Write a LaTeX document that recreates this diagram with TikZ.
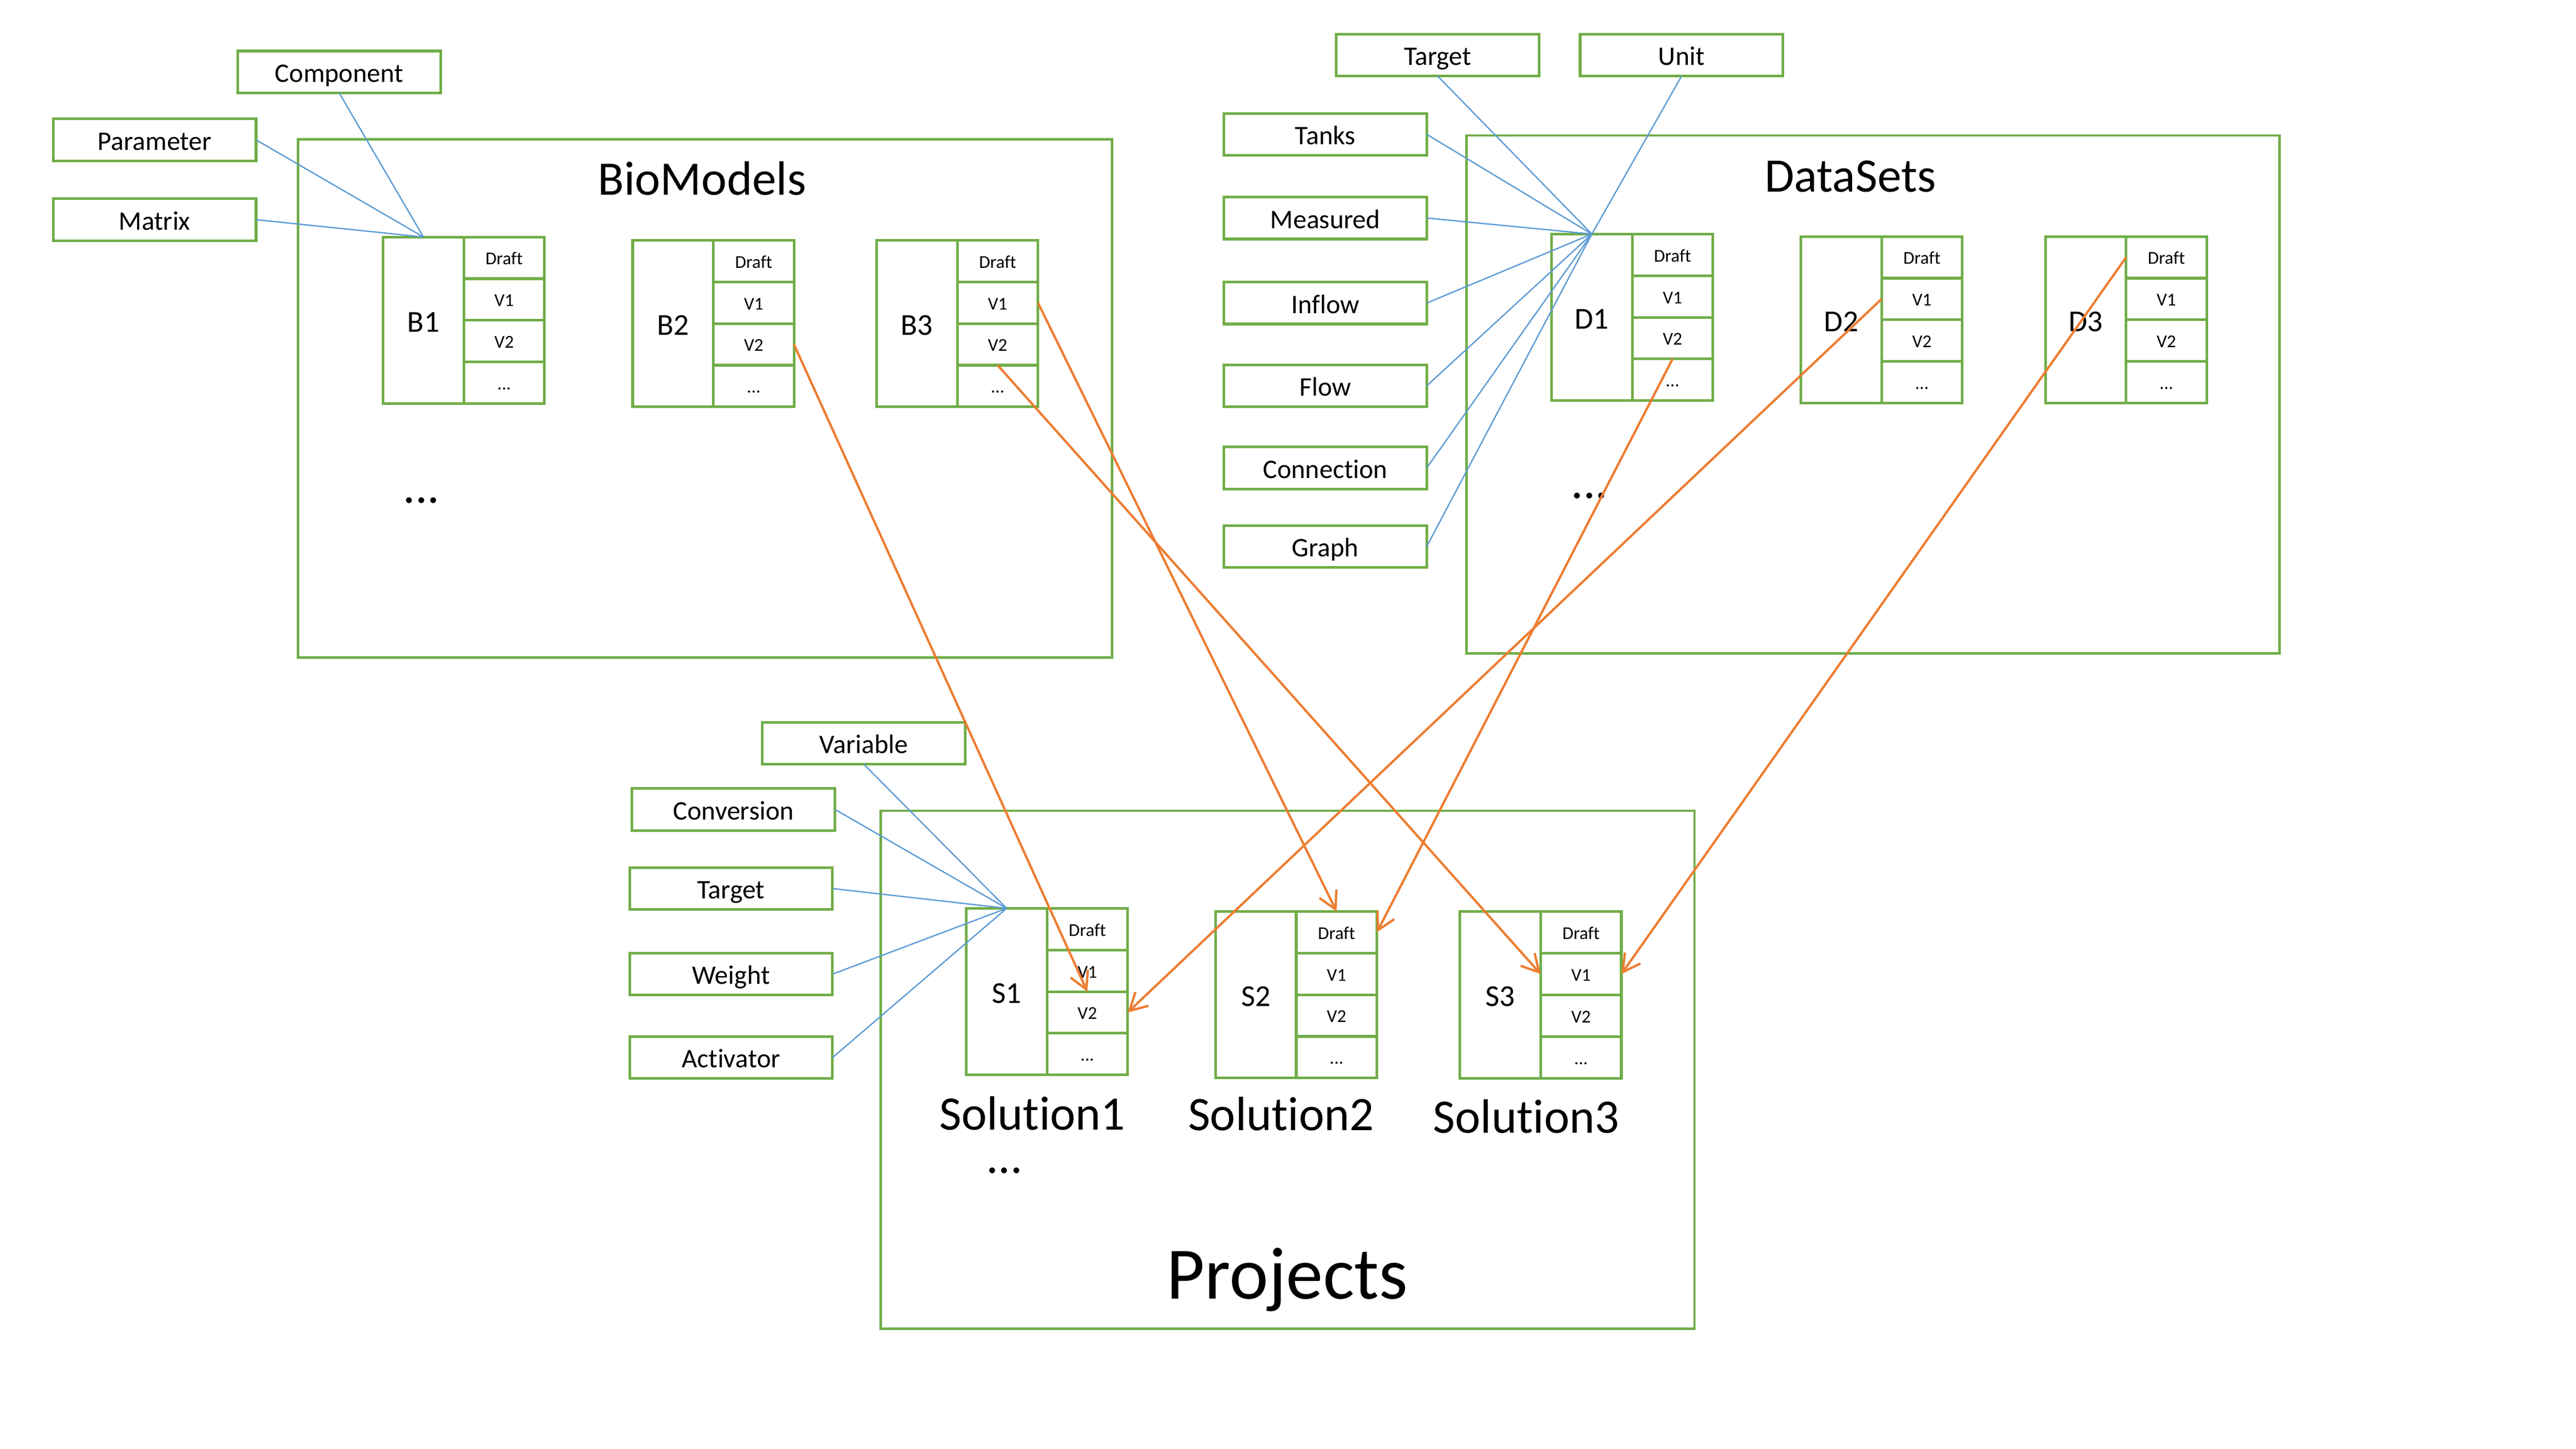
\documentclass[tikz,border=0pt]{standalone}
\usepackage{fontspec}
\setmainfont{Carlito}[Ligatures=NoCommon]
\usetikzlibrary{arrows.meta}
\definecolor{gr}{HTML}{70AD47}
\definecolor{bl}{HTML}{5B9BD5}
\definecolor{or}{HTML}{ED7D31}
\newcommand\fs[1]{\fontsize{#1}{#1}\selectfont}
\tikzset{
  grn/.style={draw=gr, line width=1.6pt},
  cellL/.style={grn, rectangle, inner sep=0pt, outer sep=0pt, anchor=north west,
    minimum width=49.1pt, minimum height=101.4pt, font=\fs{18.5}, text height=14pt, text depth=0pt},
  cellR/.style={grn, rectangle, inner sep=0pt, outer sep=0pt, anchor=north west,
    minimum width=49.1pt, minimum height=25.35pt, font=\fs{11}, text height=8.4pt, text depth=0pt},
  tagbox/.style={grn, rectangle, inner sep=0pt, outer sep=0pt,
    minimum width=123.5pt, minimum height=25.5pt, font=\fs{16.3}, text height=12.4pt, text depth=0pt},
  frame/.style={grn, line width=1.5pt, rectangle, inner sep=0pt, outer sep=0pt, anchor=north west},
  title/.style={anchor=base, inner sep=0pt, font=\fs{29.3}},
  bline/.style={draw=bl, line width=0.8pt},
  oarrow/.style={draw=or, line width=1.4pt, -{Straight Barb[length=10.5pt, width=11.5pt]}},
}
\newcommand\mkgroup[4]{%
  \node[cellL] (#1) at (#2,#3) {#4};
  \node[cellR] (#1d) at ({#2+49.1},{#3}) {Draft};
  \node[cellR] (#1v1) at ({#2+49.1},{#3+25.35}) {V1};
  \node[cellR] (#1v2) at ({#2+49.1},{#3+50.7}) {V2};
  \node[cellR] (#1e) at ({#2+49.1},{#3+76.05}) {...};
}
\begin{document}
\begin{tikzpicture}[x=1pt,y=-1pt]
\useasboundingbox (0,0) rectangle (1568,882);

% frames
\node[frame, minimum width=495.4pt, minimum height=315.5pt] (bio) at (181.4,84.9) {};
\node[frame, minimum width=494.9pt, minimum height=315.4pt] (data) at (892.6,82.5) {};
\node[frame, minimum width=495.3pt, minimum height=315.3pt] (proj) at (536.1,493.6) {};

% titles
\node[title] (biot) at (427.3,118.8) {BioModels};
\node[title] (datat) at (1126.3,116.8) {DataSets};
\node[title, font=\fs{45}] (projt) at (783.6,790.7) {Projects};
\node[title] (sol1) at (628.4,687.8) {Solution1};
\node[title] (sol2) at (779.8,688.2) {Solution2};
\node[title] (sol3) at (929.0,689.8) {Solution3};
\node[title] (biodots) at (256.5,306.2) {...};
\node[title] (datadots) at (967.4,303.4) {...};
\node[title] (projdots) at (611.4,714.2) {...};

% groups
\mkgroup{B1}{233.2}{144.3}{B1}
\mkgroup{B2}{385.1}{146.3}{B2}
\mkgroup{B3}{533.6}{146.3}{B3}
\mkgroup{D1}{944.4}{142.5}{D1}
\mkgroup{D2}{1096.2}{144.0}{D2}
\mkgroup{D3}{1245.0}{144.0}{D3}
\mkgroup{S1}{588.2}{553.0}{S1}
\mkgroup{S2}{739.9}{554.9}{S2}
\mkgroup{S3}{888.7}{555.0}{S3}

% tag boxes
\node[tagbox] (comp) at (206.45,43.8) {Component};
\node[tagbox] (param) at (94.1,85.15) {Parameter};
\node[tagbox] (matrix) at (94.1,133.75) {Matrix};
\node[tagbox] (tgtD) at (875.1,33.6) {Target};
\node[tagbox] (unit) at (1023.55,33.6) {Unit};
\node[tagbox] (tanks) at (806.7,81.8) {Tanks};
\node[tagbox] (meas) at (806.7,132.75) {Measured};
\node[tagbox] (inflow) at (806.7,184.5) {Inflow};
\node[tagbox] (flow) at (806.7,234.9) {Flow};
\node[tagbox] (conn) at (806.7,284.9) {Connection};
\node[tagbox] (graph) at (806.7,332.65) {Graph};
\node[tagbox] (var) at (525.75,452.45) {Variable};
\node[tagbox] (conv) at (446.5,492.8) {Conversion};
\node[tagbox] (tgtS) at (445,540.95) {Target};
\node[tagbox] (weight) at (445,593.05) {Weight};
\node[tagbox] (activ) at (445,643.85) {Activator};

% blue connectors
\draw[bline] (comp.south) -- (B1.north);
\draw[bline] (param.east) -- (B1.north);
\draw[bline] (matrix.east) -- (B1.north);
\foreach \s in {tgtD.south, unit.south, tanks.east, meas.east, inflow.east, flow.east, conn.east, graph.east}
  \draw[bline] (\s) -- (D1.north);
\foreach \s in {var.south, conv.east, tgtS.east, weight.east, activ.east}
  \draw[bline] (\s) -- (S1.north);

% orange arrows
\draw[oarrow] (B2v2.east) -- (S1v2.north);
\draw[oarrow] (B3v1.east) -- (S2d.north);
\draw[oarrow] (B3v2.south) -- (S3v1.west);
\draw[oarrow] (D1v2.south) -- (S2d.east);
\draw[oarrow] (D2v1.west) -- (S1v2.east);
\draw[oarrow] (D3d.west) -- (S3v1.east);
\end{tikzpicture}
\end{document}
